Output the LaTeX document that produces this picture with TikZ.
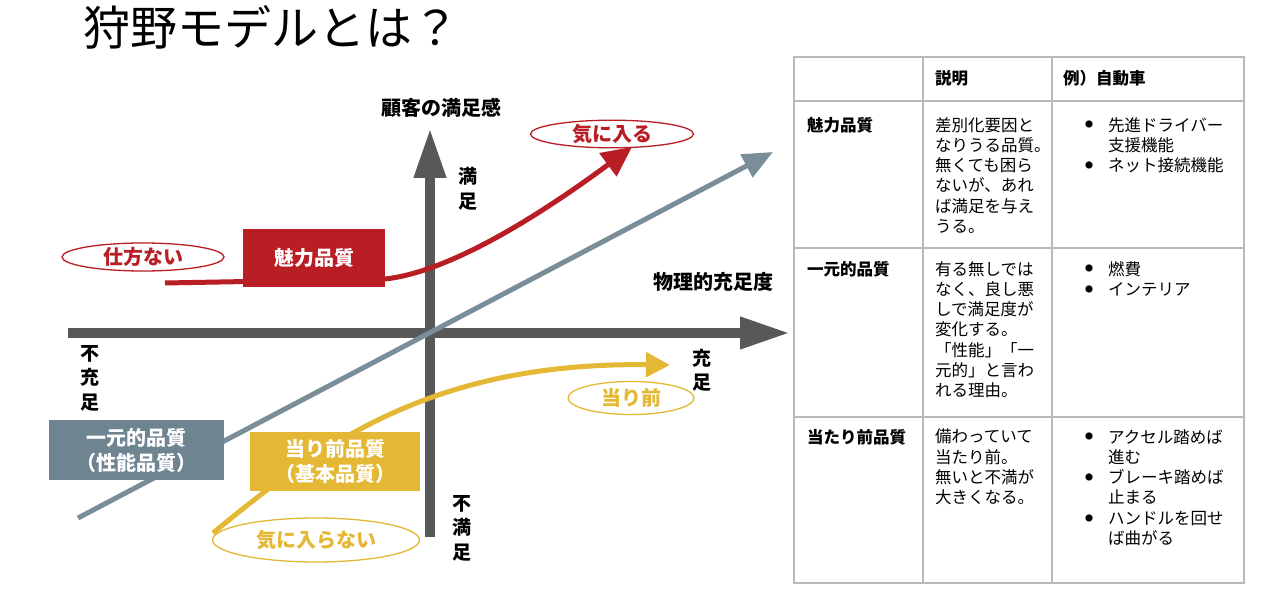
\documentclass[tikz,border=0pt]{standalone}
\usepackage{fontspec}
\setmainfont{Noto Sans CJK JP}
\usetikzlibrary{arrows.meta,shapes.geometric}
\definecolor{kred}{RGB}{184,30,36}
\definecolor{kyel}{RGB}{228,184,52}
\definecolor{kblue}{RGB}{122,142,154}
\definecolor{kbluebox}{RGB}{110,132,145}
\definecolor{kaxis}{RGB}{88,88,90}
\definecolor{kgrid}{RGB}{185,185,185}
\tikzset{
  axisline/.style={line width=10pt, color=kaxis, -{Triangle[length=50pt,width=30pt]}},
  curveline/.style={line width=5pt},
  qbox/.style={rectangle, inner sep=0pt, text=white, align=center,
    font=\fontsize{20}{25}\selectfont\bfseries},
  oval/.style={ellipse, draw, line width=1.3pt, inner sep=0pt,
    font=\fontsize{20}{24}\selectfont\bfseries},
  axlabel/.style={inner sep=0pt, align=center, font=\fontsize{19}{24.5}\selectfont\bfseries},
  gridline/.style={line width=2pt, color=kgrid},
  thead/.style={anchor=west, inner sep=0pt, font=\fontsize{16.5}{20.3}\selectfont\bfseries},
  tcell/.style={anchor=north west, inner sep=0pt, align=left, font=\fontsize{16.5}{20.3}\selectfont},
  tlabel/.style={anchor=north west, inner sep=0pt, align=left, font=\fontsize{16.5}{20.3}\selectfont\bfseries},
}
\newcommand{\bul}{\makebox[23pt][l]{\raisebox{3.2pt}{\fontsize{8}{8}\selectfont ●}}}
\newcommand{\nobul}{\hspace*{23pt}}
\begin{document}
\begin{tikzpicture}[x=1pt,y=-1pt]
\useasboundingbox[fill=white] (0,0) rectangle (1280,593);

% title
\node[anchor=base west, inner sep=0pt, font=\fontsize{47}{52}\selectfont] (title) at (83,46) {狩野モデルとは？};

% axes
\coordinate (hx0) at (68,333);
\coordinate (hx1) at (790,333);
\coordinate (vy0) at (430,537);
\coordinate (vy1) at (430,128);
\draw[axisline] (hx0) -- (hx1);
\draw[axisline] (vy0) -- (vy1);

% curves
\coordinate (b0) at (78,518);
\coordinate (b1) at (773,152);
\draw[curveline, kblue, -{Triangle[length=30pt,width=25pt]}] (b0) -- (b1);

\coordinate (r0) at (165,283);
\coordinate (r1) at (385,279);
\coordinate (r2) at (632,147);
\draw[curveline, kred, -{Triangle[length=30pt,width=28pt]}] (r0) -- (r1) .. controls (450,272) and (540,215) .. (r2);

\coordinate (y0) at (213,533);
\coordinate (y1) at (670,365);
\draw[curveline, kyel, -{Triangle[length=24pt,width=24pt]}] (y0) .. controls (320,445) and (430,362) .. (y1);

% boxes
\node[qbox, fill=kred, minimum width=142pt, minimum height=58pt] (miryoku) at (314,258) {魅力品質};
\node[qbox, fill=kbluebox, minimum width=175pt, minimum height=60pt] (ichigen) at (136.5,450) {一元的品質\\（性能品質）};
\node[qbox, fill=kyel, minimum width=170pt, minimum height=59pt] (atari) at (335,461.5) {当り前品質\\（基本品質）};

% ovals
\node[oval, draw=kred, text=kred, minimum width=162pt, minimum height=28pt] (shikata) at (143,257) {仕方ない};
\node[oval, draw=kred, text=kred, minimum width=163pt, minimum height=26pt] (kiniiru) at (612,134) {気に入る};
\node[oval, draw=kyel, text=kyel, minimum width=126pt, minimum height=33pt] (atarimae) at (631,398) {当り前};
\node[oval, draw=kyel, text=kyel, minimum width=207pt, minimum height=44pt] (kiniiranai) at (316,540) {気に入らない};

% axis labels
\node[axlabel, font=\fontsize{20}{24}\selectfont\bfseries] (lsat) at (441,108) {顧客の満足感};
\node[axlabel, font=\fontsize{20}{24}\selectfont\bfseries] (lphys) at (713,282) {物理的充足度};
\node[axlabel] (lmanzoku) at (468,188.5) {満\\足};
\node[axlabel] (lfujuu) at (90,378) {不\\充\\足};
\node[axlabel] (ljuu) at (702,370) {充\\足};
\node[axlabel] (lfuman) at (462,528) {不\\満\\足};

% table grid
\draw[gridline] (794,57) rectangle (1244,583);
\draw[gridline] (923,57) -- (923,583);
\draw[gridline] (1052,57) -- (1052,583);
\draw[gridline] (794,101) -- (1244,101);
\draw[gridline] (794,248) -- (1244,248);
\draw[gridline] (794,417) -- (1244,417);

% table header
\node[thead] (hsetsu) at (935,78) {説明};
\node[thead] (hrei) at (1063,78) {例）自動車};

% row 1
\node[tlabel] (l1) at (807,117) {魅力品質};
\node[tcell] (d1) at (935,117) {差別化要因と\\なりうる品質。\\無くても困ら\\ないが、あれ\\ば満足を与え\\うる。};
\node[tcell] (e1) at (1085,117) {\bul 先進ドライバー\\\nobul 支援機能\\\bul ネット接続機能};

% row 2
\node[tlabel] (l2) at (807,261) {一元的品質};
\node[tcell] (d2) at (935,261) {有る無しでは\\なく、良し悪\\しで満足度が\\変化する。\\「性能」「一\\元的」と言わ\\れる理由。};
\node[tcell] (e2) at (1085,261) {\bul 燃費\\\bul インテリア};

% row 3
\node[tlabel] (l3) at (807,429) {当たり前品質};
\node[tcell] (d3) at (935,429) {備わっていて\\当たり前。\\無いと不満が\\大きくなる。};
\node[tcell] (e3) at (1085,429) {\bul アクセル踏めば\\\nobul 進む\\\bul ブレーキ踏めば\\\nobul 止まる\\\bul ハンドルを回せ\\\nobul ば曲がる};
\end{tikzpicture}
\end{document}
